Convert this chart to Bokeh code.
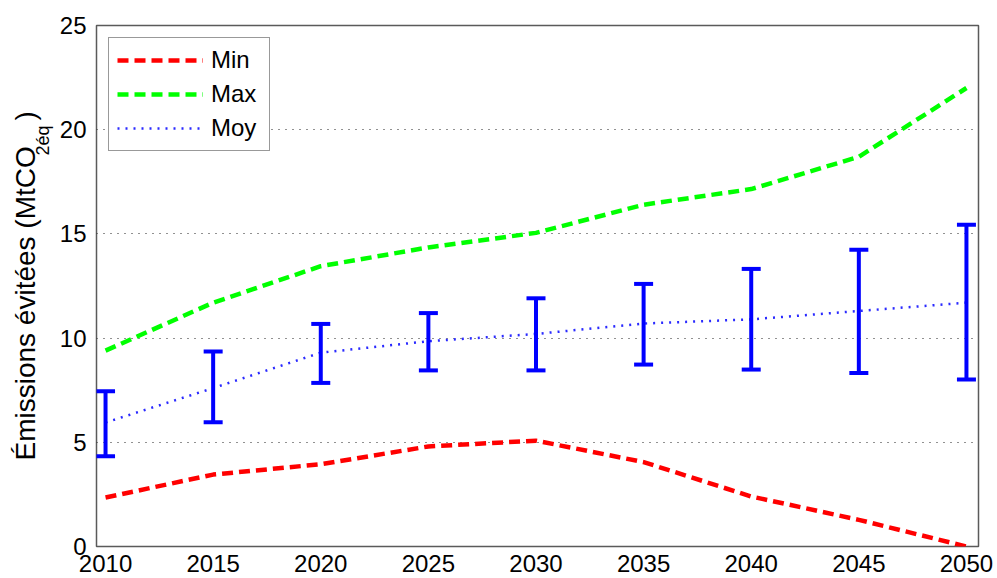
import math
from bokeh.plotting import figure
from bokeh.layouts import row
from bokeh.models import (Range1d, FixedTicker, Legend, LegendItem, Whisker,
                          TeeHead, ColumnDataSource)
from bokeh.core.properties import value
from bokeh.embed import file_html
from bokeh.resources import INLINE

# ---- data ----
years = [2010, 2015, 2020, 2025, 2030, 2035, 2040, 2045, 2050]
min_vals = [2.35, 3.45, 3.95, 4.8, 5.08, 4.05, 2.4, 1.28, 0.0]
max_vals = [9.4, 11.7, 13.45, 14.35, 15.05, 16.4, 17.15, 18.7, 22.0]
moy_vals = [5.95, 7.6, 9.3, 9.85, 10.2, 10.7, 10.9, 11.3, 11.7]
err_low = [4.33, 5.96, 7.85, 8.45, 8.45, 8.73, 8.49, 8.33, 8.01]
err_high = [7.45, 9.36, 10.68, 11.2, 11.91, 12.6, 13.32, 14.24, 15.44]

x_ticks = [2010, 2015, 2020, 2025, 2030, 2035, 2040, 2045, 2050]
y_ticks = [0, 5, 10, 15, 20, 25]
grid_ticks = [5, 10, 15, 20]
legend_labels = ["Min", "Max", "Moy"]
y_label_main = "Émissions évitées (MtCO"
y_label_sub = "2éq"
y_label_end = ")"

FONT = "Liberation Sans"
H = 578
LAB_W = 56

# ---- narrow panel holding the rotated y-axis title ----
pl = figure(frame_width=LAB_W, frame_height=H, min_border=0,
            x_range=Range1d(0, LAB_W), y_range=Range1d(0, H),
            x_axis_location=None, y_axis_location=None,
            output_backend="svg", toolbar_location=None)
pl.outline_line_color = None
pl.xgrid.visible = False
pl.ygrid.visible = False
pl.background_fill_color = "white"
pl.border_fill_color = "white"
# pixel placement of the title parts (bottom-up reading)
pl.text(x=[25], y=[H - 435], text=[y_label_main], angle=math.pi / 2,
        text_align="left", text_baseline="alphabetic",
        text_font=value(FONT), text_font_size="28px", text_color="black")
pl.text(x=[42], y=[H - 130], text=[y_label_sub], angle=math.pi / 2,
        text_align="left", text_baseline="alphabetic",
        text_font=value(FONT), text_font_size="18px", text_color="black")
pl.text(x=[25], y=[H - 95], text=[y_label_end], angle=math.pi / 2,
        text_align="left", text_baseline="alphabetic",
        text_font=value(FONT), text_font_size="28px", text_color="black")

# ---- main chart ----
p = figure(frame_width=882, frame_height=521,
           min_border_left=96 - LAB_W, min_border_right=19,
           min_border_top=25, min_border_bottom=32,
           x_range=Range1d(2009.58, 2050.56), y_range=Range1d(0, 25),
           output_backend="svg", toolbar_location=None)

p.background_fill_color = "white"
p.border_fill_color = "white"
p.outline_line_color = "#5a5a5a"
p.outline_line_width = 1.5

for ax in (p.xaxis[0], p.yaxis[0]):
    ax.axis_line_color = None
    ax.major_tick_in = 0
    ax.major_tick_out = 0
    ax.minor_tick_line_color = None
    ax.major_label_text_font = FONT
    ax.major_label_text_font_size = "24px"
    ax.major_label_text_color = "black"
p.xaxis.ticker = FixedTicker(ticks=x_ticks)
p.yaxis.ticker = FixedTicker(ticks=y_ticks)
p.xaxis.major_label_standoff = 8
p.yaxis.major_label_standoff = 10

p.xgrid.visible = False
p.ygrid.ticker = FixedTicker(ticks=grid_ticks)
p.ygrid.grid_line_color = "#222222"
p.ygrid.grid_line_dash = "1 6"
p.ygrid.grid_line_width = 1

r_min = p.line(years, min_vals, line_color="#FF0000", line_width=4.5, line_dash="11 6")
r_max = p.line(years, max_vals, line_color="#00FF00", line_width=4.5, line_dash="11 6")
r_moy = p.line(years, moy_vals, line_color="#2a2aFF", line_width=2.5, line_dash="2 6")

src = ColumnDataSource(data=dict(x=years, lower=err_low, upper=err_high))
wh = Whisker(base="x", lower="lower", upper="upper", source=src,
             line_color="#0000FF", line_width=4,
             upper_head=TeeHead(size=19, line_color="#0000FF", line_width=4),
             lower_head=TeeHead(size=19, line_color="#0000FF", line_width=4))
wh.level = "overlay"
p.add_layout(wh)

legend = Legend(items=[LegendItem(label=legend_labels[0], renderers=[r_min]),
                       LegendItem(label=legend_labels[1], renderers=[r_max]),
                       LegendItem(label=legend_labels[2], renderers=[r_moy])],
                location="top_left", margin=12, padding=8, spacing=6,
                glyph_width=86, glyph_height=22, label_height=22,
                label_width=50, label_standoff=8,
                label_text_font=FONT, label_text_font_size="24px",
                label_text_color="black",
                border_line_color="#333333", border_line_width=1,
                background_fill_color="white", background_fill_alpha=1)
p.add_layout(legend)

layout = row(pl, p, spacing=0)
open("out.html", "w").write(file_html(layout, INLINE))
